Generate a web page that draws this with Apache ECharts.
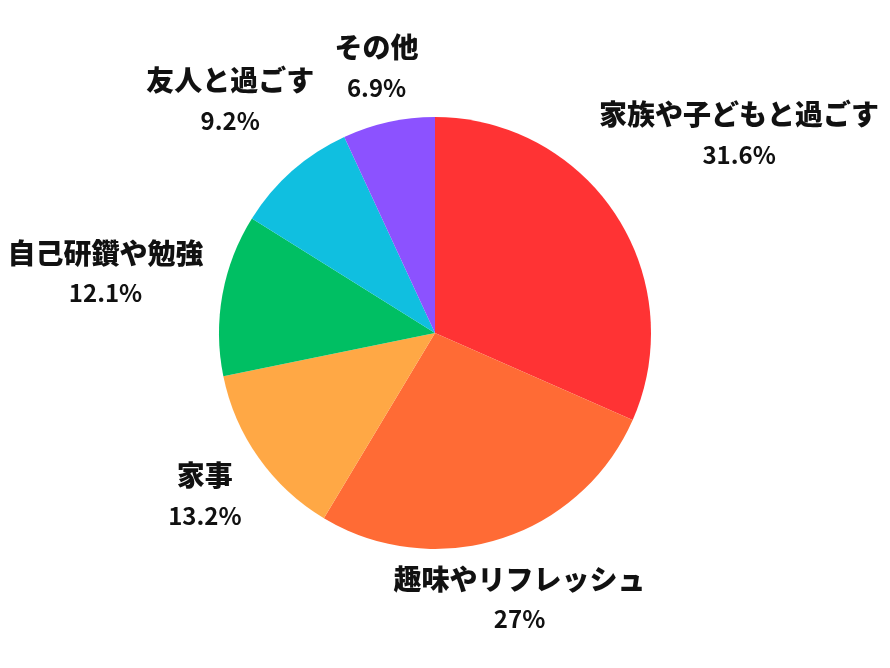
<!DOCTYPE html>
<html>
<head>
<meta charset="utf-8">
<script src="https://cdn.jsdelivr.net/npm/echarts@6/dist/echarts.min.js"></script>
<style>
html,body{margin:0;padding:0;background:#fff;}
#main{width:890px;height:668px;}
</style>
</head>
<body>
<div id="main"></div>
<script>
var categories = ['家族や子どもと過ごす', '趣味やリフレッシュ', '家事', '自己研鑽や勉強', '友人と過ごす', 'その他'];
var values = [31.6, 27, 13.2, 12.1, 9.2, 6.9];
var colors = ['#FF3334', '#FF6B35', '#FFA845', '#00BF63', '#10BFE0', '#8C52FF'];

var CX = 435, CY = 333, R = 216, GAP = 17;
var total = values.reduce(function (a, b) { return a + b; }, 0);
var cum = [];
(function () { var s = 0; for (var i = 0; i < values.length; i++) { cum.push(s); s += values[i]; } })();

function boxDist(px, py, hw, hh) {
  var dx = Math.max(Math.abs(px) - hw, 0), dy = Math.max(Math.abs(py) - hh, 0);
  return Math.sqrt(dx * dx + dy * dy);
}

var chart = echarts.init(document.getElementById('main'));
chart.setOption({
  backgroundColor: '#ffffff',
  animation: false,
  series: [{
    type: 'pie',
    center: [CX, CY],
    radius: [0, R],
    startAngle: 90,
    clockwise: true,
    avoidLabelOverlap: false,
    data: categories.map(function (c, i) {
      return { name: c, value: values[i], itemStyle: { color: colors[i] } };
    }),
    label: {
      show: true,
      position: 'outside',
      formatter: function (p) { return '{n|' + p.name + '}\n{p|' + p.value + '%}'; },
      rich: {
        n: { fontFamily: 'Noto Sans CJK JP', fontWeight: 900, fontSize: 28, color: '#111', align: 'center', lineHeight: 40 },
        p: { fontFamily: 'Noto Sans CJK JP', fontWeight: 'bold', fontSize: 24, color: '#111', align: 'center', lineHeight: 40 }
      }
    },
    labelLine: { show: false },
    labelLayout: function (p) {
      var i = p.dataIndex;
      var mid = (90 - (cum[i] + values[i] / 2) / total * 360) * Math.PI / 180;
      var c = Math.cos(mid), s = Math.sin(mid);
      var hw = p.labelRect.width / 2, hh = p.labelRect.height / 2;
      var lo = 0, hi = 1000;
      for (var k = 0; k < 60; k++) {
        var m = (lo + hi) / 2;
        if (boxDist(m * c, m * s, hw, hh) < R + GAP) lo = m; else hi = m;
      }
      var d = (lo + hi) / 2;
      return { x: CX + d * c, y: CY - d * s, align: 'center', verticalAlign: 'middle' };
    }
  }]
});
</script>
</body>
</html>
